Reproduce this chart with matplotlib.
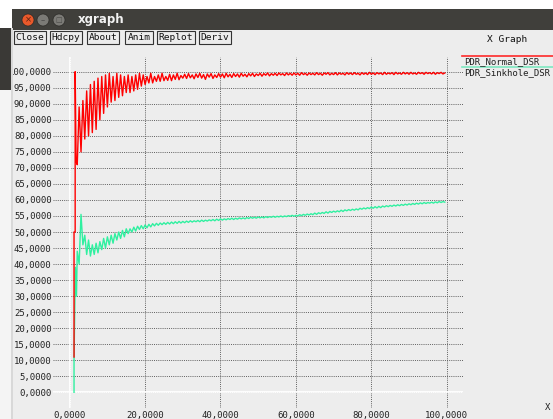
import matplotlib
matplotlib.use('Agg')
import matplotlib.pyplot as plt
import numpy as np
from matplotlib.patches import Rectangle, Ellipse

# ---------------- data ----------------
series_names = ["PDR_Normal_DSR", "PDR_Sinkhole_DSR"]
x_ticks = [0, 20, 40, 60, 80, 100]
y_ticks = list(range(0, 105, 5))
buttons = ["Close", "Hdcpy", "About", "Anim", "Replot", "Deriv"]

# sample times after the start-up transient
t_main = np.arange(2.0, 100.0, 0.5)

normal_start_x = [1.15, 1.15, 1.45, 1.45, 1.7]
normal_start_y = [11, 50, 50, 100, 72]
normal_y = [
    71, 89, 75, 91, 79, 94, 80, 96, 81, 97,
    82, 98, 85, 98.5, 87, 99, 89, 99.5, 90.5, 98.5,
    91, 99.5, 92, 99, 92.5, 98.5, 93.5, 99, 93.5, 98.5,
    94, 99, 94.5, 99.5, 95.5, 99, 96, 98.5, 96.5, 99.5,
    96.5, 98.5, 97, 99, 97, 99.5, 97.2, 98.5, 97.3, 99.2,
    97.2, 99, 97.6, 99.5, 97.5, 98.8,
    98.0, 99.2, 97.9, 99.4, 98.1, 99.0, 97.8, 99.3, 98.2, 99.5,
    98.0, 99.1, 97.6, 99.3, 98.3, 99.4, 97.9, 99.0, 98.2, 99.4,
    98.3, 99.3, 98.1, 99.5, 98.4, 99.2, 98.2, 99.4, 98.5, 99.3,
    98.3, 99.5, 98.6, 99.2, 98.4, 99.4, 98.7, 99.5, 98.5, 99.3,
    98.8, 99.5, 98.6, 99.4, 98.9, 99.6, 98.7, 99.4, 98.9, 99.5,
    98.8, 99.6, 99.0, 99.4, 98.8, 99.6, 99.0, 99.5, 98.9, 99.6,
    99.0, 99.5, 98.9, 99.7, 99.1, 99.5, 98.9, 99.6, 99.1, 99.5,
    99.0, 99.7, 99.1, 99.5, 98.9, 99.6, 99.2, 99.7, 99.0, 99.5,
    99.1, 99.7, 99.0, 99.6, 99.2, 99.5, 99.0, 99.7, 99.2, 99.6,
    99.1, 99.7, 99.2, 99.5, 99.0, 99.7, 99.2, 99.6, 99.1, 99.8,
    99.2, 99.6, 99.1, 99.7, 99.3, 99.6, 99.1, 99.8, 99.2, 99.6,
    99.3, 99.7, 99.1, 99.8, 99.3, 99.6, 99.2, 99.8, 99.3, 99.7,
    99.2, 99.8, 99.3, 99.6, 99.2, 99.8, 99.4, 99.7, 99.2, 99.8,
    99.4, 99.7, 99.3, 99.8, 99.2, 99.7, 99.4, 99.8, 99.3, 99.6,
]

sink_start_x = [1.15, 1.15, 1.3, 1.5, 1.8]
sink_start_y = [0, 10, 22, 39, 30]
sink_y = [
    44, 40, 55.5, 46, 49, 43, 47.5, 42.5, 46, 43,
    46.5, 43.5, 47, 44.5, 48, 45, 48.5, 46, 49, 46.5,
    49.5, 47.5, 50, 48, 50.5, 48.5, 51, 49.5, 51, 50,
    51.5, 50.3, 51.8, 50.8, 52, 51, 52.2, 51.3, 52.4, 51.6,
    52.6, 51.9, 52.7, 52.1, 52.8, 52.3, 52.9, 52.4, 53.0, 52.5,
    53.1, 52.6, 53.2, 52.7, 53.3, 52.8,
    53.3, 52.9, 53.4, 53.0, 53.5, 53.1, 53.5, 53.2, 53.6, 53.2,
    53.7, 53.3, 53.7, 53.4, 53.8, 53.5, 53.9, 53.5, 54.0, 53.6,
    54.1, 53.7, 54.1, 53.8, 54.2, 53.9, 54.3, 53.9, 54.3, 54.0,
    54.4, 54.1, 54.4, 54.1, 54.5, 54.2, 54.6, 54.3, 54.6, 54.3,
    54.7, 54.4, 54.7, 54.4, 54.8, 54.5, 54.8, 54.6, 54.9, 54.6,
    54.9, 54.7, 55.0, 54.7, 55.0, 54.8, 55.1, 54.9, 55.2, 54.9,
    55.2, 55.0, 55.4, 55.1, 55.5, 55.2, 55.6, 55.3, 55.7, 55.4,
    55.9, 55.5, 56.0, 55.7, 56.1, 55.8, 56.3, 55.9, 56.4, 56.1,
    56.5, 56.2, 56.6, 56.3, 56.8, 56.4, 56.9, 56.6, 57.0, 56.7,
    57.1, 56.8, 57.2, 56.9, 57.4, 57.1, 57.5, 57.2, 57.6, 57.3,
    57.8, 57.4, 57.9, 57.5, 58.0, 57.6, 58.1, 57.8, 58.2, 57.9,
    58.3, 58.0, 58.4, 58.1, 58.5, 58.2, 58.6, 58.3, 58.7, 58.4,
    58.8, 58.5, 58.9, 58.6, 59.0, 58.7, 59.1, 58.8, 59.2, 58.9,
    59.2, 59.0, 59.3, 59.0, 59.4, 59.1, 59.5, 59.2, 59.5, 59.3,
]

# ---------------- figure / window chrome ----------------
W, H = 553, 419
fig = plt.figure(figsize=(W / 100, H / 100), dpi=100)
fig.patch.set_facecolor('white')
MONO = 'DejaVu Sans Mono'


def fx(px):
    return px / W


def fy(py):
    return 1 - py / H


def rect(x0, y0, x1, y1, fc, ec='none', lw=0, z=1):
    r = Rectangle((fx(x0), fy(y1)), (x1 - x0) / W, (y1 - y0) / H,
                  transform=fig.transFigure, facecolor=fc, edgecolor=ec,
                  linewidth=lw, zorder=z)
    fig.add_artist(r)
    return r


# window body
rect(12, 28, 553, 419, '#ededed', z=-5)
# desktop strip on the left
rect(0, 28, 12, 90, '#3a3936', z=5)
rect(0, 90, 12, 419, '#f4f4f4', z=5)
rect(11, 28, 13, 419, '#d8d8d8', z=5)
# title bar
rect(12, 9, 553, 30, '#403f3b', z=1)
for cx, col in [(28, '#e9592b'), (43, '#7b7a76'), (59, '#7b7a76')]:
    fig.add_artist(Ellipse((fx(cx), fy(20)), 12 / W, 12 / H,
                           transform=fig.transFigure, facecolor=col,
                           edgecolor='#2c2b28', linewidth=0.5, zorder=2))
fig.text(fx(28), fy(20), '×', color='#5a2010', fontsize=6,
         ha='center', va='center', zorder=3)
fig.text(fx(43), fy(20.5), '–', color='#4a4a48', fontsize=6,
         ha='center', va='center', zorder=3)
fig.text(fx(59), fy(20), '□', color='#4a4a48', fontsize=5,
         ha='center', va='center', zorder=3)
fig.text(fx(78), fy(19.5), 'xgraph', color='#f2f2f2', fontsize=8.5,
         fontweight='bold', ha='left', va='center', zorder=3)

# buttons
btn_x = [(14, 46), (50, 82), (87, 119), (125, 153), (157, 195), (199, 231)]
for (x0, x1), lab in zip(btn_x, buttons):
    rect(x0, 31.5, x1, 44, '#ececec', ec='#333333', lw=0.8, z=2)
    fig.text(fx((x0 + x1) / 2), fy(38), lab, fontsize=6.8, family=MONO,
             color='#111111', ha='center', va='center', zorder=3)
fig.text(fx(507), fy(40), 'X Graph', fontsize=6.8, family=MONO,
         color='#111111', ha='center', va='center')

# ---------------- plot area ----------------
PX0, PX_PER_X = 69.7, 3.77
PY0, PY_PER_Y = 392.3, 3.206
L, R, T, B = 53, 463, 57, 408
ax = fig.add_axes([fx(L), fy(B), (R - L) / W, (B - T) / H])
ax.set_xlim((L - PX0) / PX_PER_X, (R - PX0) / PX_PER_X)
ax.set_ylim((PY0 - B) / PY_PER_Y, (PY0 - T) / PY_PER_Y)
ax.patch.set_visible(False)
for s in ax.spines.values():
    s.set_visible(False)

ax.set_xticks(x_ticks)
ax.set_yticks(y_ticks)
ax.set_xticklabels([f"{v:.4f}".replace('.', ',') for v in x_ticks],
                   family=MONO, fontsize=6.5, color='#222222')
ax.set_yticklabels([f"{v:.4f}".replace('.', ',') for v in y_ticks],
                   family=MONO, fontsize=6.5, color='#222222')
ax.tick_params(length=0, pad=1)
ax.tick_params(axis='x', pad=2)
ax.grid(True, color='#606060', linestyle=(0, (1, 1.2)), linewidth=0.7)
ax.axhline(0, color='white', linewidth=1.3, zorder=2)
ax.axvline(0, color='white', linewidth=1.3, zorder=2)

sink_x = list(sink_start_x) + list(t_main)
sink_all = list(sink_start_y) + list(sink_y)
norm_x = list(normal_start_x) + list(t_main)
norm_all = list(normal_start_y) + list(normal_y)
ax.plot(sink_x, sink_all, color='#30f0a0', linewidth=1.0, zorder=3)
ax.plot(norm_x, norm_all, color='#ff0000', linewidth=1.0, zorder=4)

# legend (xgraph style)
fig.add_artist(plt.Line2D([fx(462), fx(553)], [fy(56.5), fy(56.5)],
                          transform=fig.transFigure, color='#ff2a2a', lw=1.2))
fig.text(fx(464), fy(62), series_names[0], family=MONO, fontsize=6.5,
         color='#222222', ha='left', va='center')
fig.add_artist(plt.Line2D([fx(462), fx(553)], [fy(67.5), fy(67.5)],
                          transform=fig.transFigure, color='#7ee8c0', lw=1.2))
fig.text(fx(464), fy(72.5), series_names[1], family=MONO, fontsize=6.5,
         color='#222222', ha='left', va='center')

fig.text(fx(548), fy(407), 'X', family=MONO, fontsize=6.5,
         color='#222222', ha='center', va='center')

fig.savefig('out.png', dpi=100)
